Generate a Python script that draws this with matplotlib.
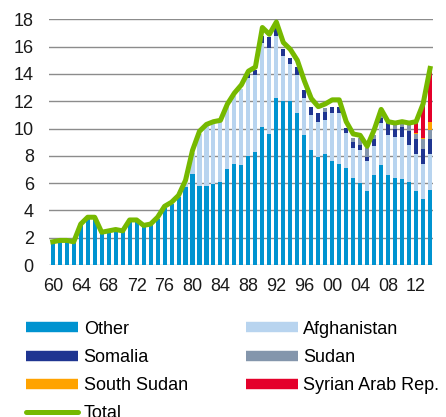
import numpy as np
import matplotlib
matplotlib.use('Agg')
import matplotlib.pyplot as plt
from matplotlib.lines import Line2D

plt.rcParams['font.family'] = ['Liberation Sans', 'DejaVu Sans']

years = np.arange(1960, 2015)

# refugees by origin, millions
other = [1.6, 1.7, 1.7, 1.6, 2.9, 3.4, 3.4, 2.3, 2.4, 2.5, 2.4, 3.2, 3.2, 2.8, 2.9, 3.4,
         4.2, 4.5, 5.0, 5.7, 6.7, 5.8, 5.8, 5.9, 6.1, 7.0, 7.4, 7.3, 8.0, 8.3,
         10.1, 9.6, 12.2, 12.0, 12.0, 11.1, 9.5, 8.4, 7.9, 8.1, 7.6, 7.4, 7.1, 6.4,
         6.0, 5.4, 6.6, 7.3, 6.6, 6.4, 6.3, 6.1, 5.4, 4.8, 5.5]
afghanistan = [0] * 19 + [0.3, 1.5, 3.8, 4.4, 4.5, 4.4, 4.6, 5.0, 5.6, 5.7, 5.6,
                          6.2, 6.3, 4.6, 3.3, 2.7, 2.8, 2.7, 2.6, 2.6, 2.5, 3.5, 3.7, 2.55, 2.15,
                          2.4, 2.2, 2.1, 3.1, 2.9, 3.0, 3.1, 2.7, 2.7, 2.6, 2.6]
somalia = [0] * 28 + [0.35, 0.4, 0.5, 0.8, 0.6, 0.5, 0.5, 0.6, 0.6, 0.6, 0.6, 0.6,
                      0.5, 0.5, 0.4, 0.45, 0.4, 0.3, 0.5, 0.4, 0.9, 0.6, 0.7, 1.0, 1.1, 1.1, 1.1]
sudan = [0] * 39 + [0.3, 0, 0, 0, 0.3, 0.5, 0.7, 0.3, 0.3, 0.2, 0.4, 0.4, 0.6, 0.4, 0.7, 0.7]
south_sudan = [0] * 52 + [0.1, 0.1, 0.6]
syria = [0] * 52 + [0.7, 2.6, 3.8]
total = [1.7, 1.8, 1.8, 1.7, 3.0, 3.5, 3.5, 2.4, 2.5, 2.6, 2.5, 3.3, 3.3, 2.9, 3.0, 3.5,
         4.3, 4.6, 5.1, 6.2, 8.4, 9.8, 10.3, 10.5, 10.6, 11.8, 12.6, 13.2, 14.2, 14.5,
         17.4, 16.9, 17.8, 16.3, 15.8, 15.0, 13.5, 12.2, 11.6, 11.8, 12.1, 12.1, 10.5, 9.6,
         9.5, 8.7, 9.9, 11.4, 10.5, 10.4, 10.5, 10.4, 10.5, 11.8, 14.4]

series = [
    ('Other', other, '#0093d0'),
    ('Afghanistan', afghanistan, '#b8d4ef'),
    ('Somalia', somalia, '#1f3591'),
    ('Sudan', sudan, '#8496ac'),
    ('South Sudan', south_sudan, '#ffa300'),
    ('Syrian Arab Rep.', syria, '#e4002b'),
]

fig = plt.figure(figsize=(4.46, 4.17), dpi=100)
ax = fig.add_axes([0.110, 0.3645, 0.861, 0.5892])

bottom = np.zeros(len(years))
for name, vals, col in series:
    vals = np.array(vals, dtype=float)
    ax.bar(years, vals, width=0.58, bottom=bottom, color=col, linewidth=0, zorder=2)
    bottom += vals

ax.plot(years, total, color='#76b900', lw=3.6, zorder=3, clip_on=False,
        solid_joinstyle='round')

ax.set_xlim(1959.47, 2014.43)
ax.set_ylim(0, 18)
ax.set_yticks(range(0, 19, 2))
xt = list(range(1960, 2013, 4))
ax.set_xticks(xt)
ax.set_xticklabels([f'{y % 100:02d}' for y in xt])
ax.tick_params(axis='both', length=0, labelsize=13, colors='#1a1a1a')
ax.tick_params(axis='y', pad=11)
ax.tick_params(axis='x', pad=9)
ax.yaxis.grid(True, color='#8c8c8c', lw=1)
ax.set_axisbelow(True)
for s in ax.spines.values():
    s.set_visible(False)

order = [0, 2, 4, None, 1, 3, 5]
handles, labels = [], []
for i in order:
    if i is None:
        handles.append(Line2D([0], [0], color='#76b900', lw=3.6, solid_capstyle='round'))
        labels.append('Total')
    else:
        handles.append(Line2D([0], [0], color=series[i][2], lw=7.5, solid_capstyle='butt'))
        labels.append(series[i][0])

fig.legend(handles, labels, ncol=2, loc='upper left', bbox_to_anchor=(0.058, 0.231),
           frameon=False, fontsize=13, handlelength=2.9, handletextpad=0.3,
           columnspacing=3.2, labelspacing=0.62, borderaxespad=0, borderpad=0)

fig.savefig('out.png', dpi=100)
